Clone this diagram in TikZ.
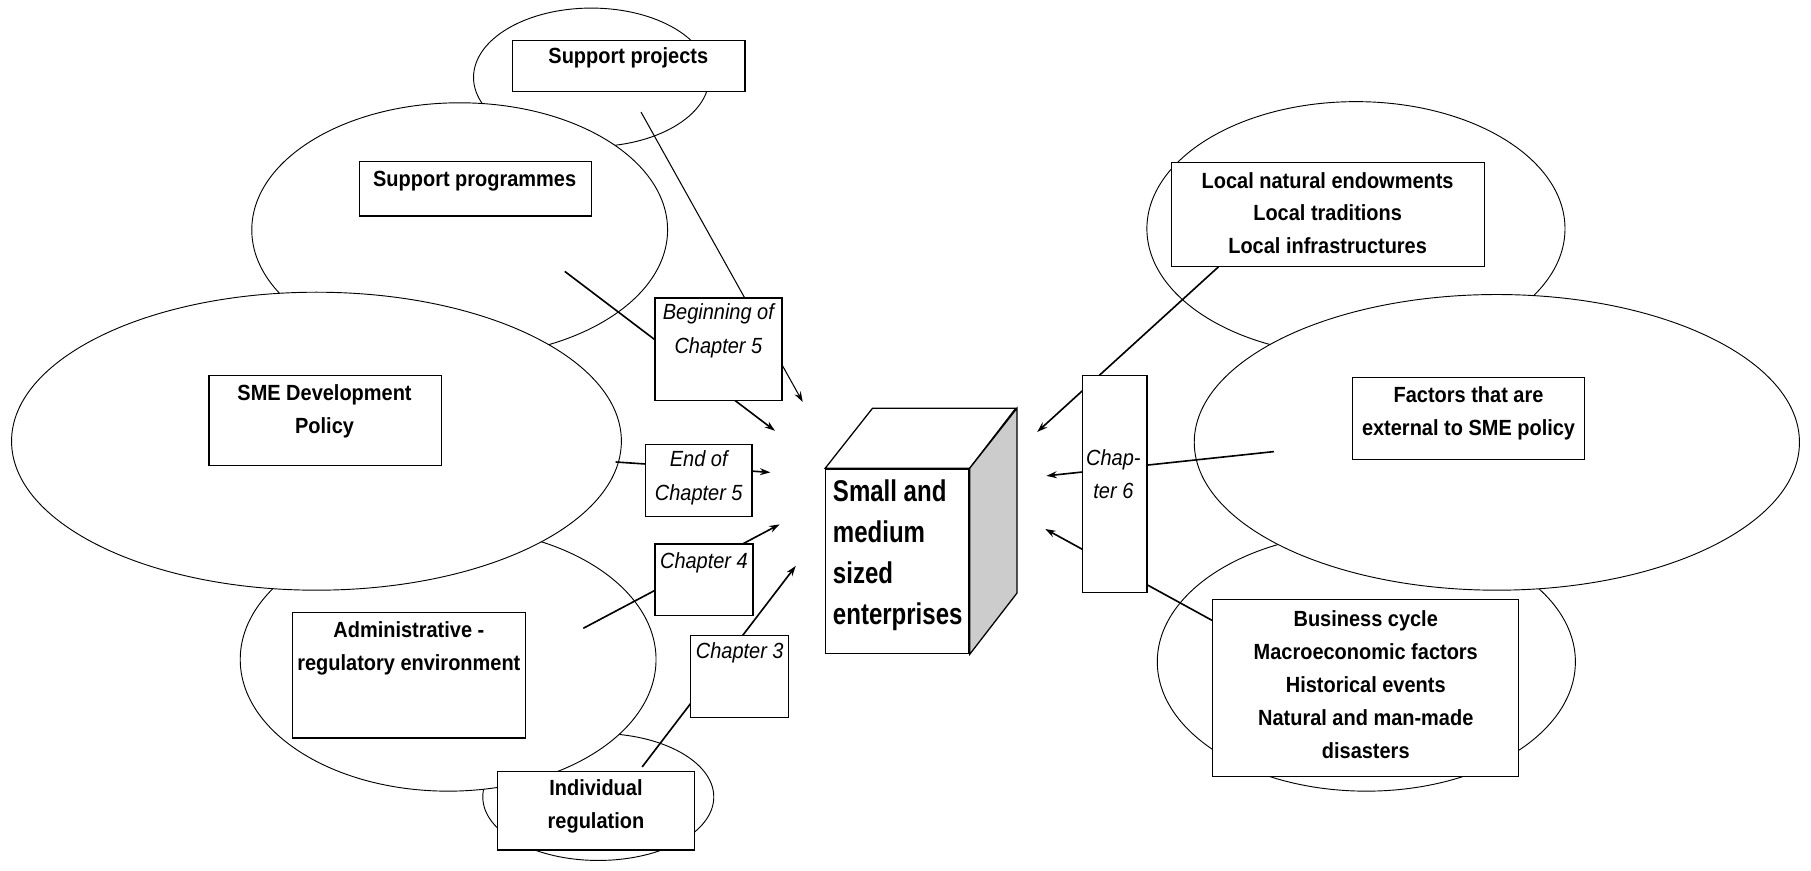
\documentclass[tikz,border=0pt]{standalone}
\usepackage{fontspec}
\setmainfont{Liberation Sans}[FakeStretch=0.91]
\newfontfamily\cubefont{Liberation Sans}[FakeStretch=0.8]
\usetikzlibrary{shapes.geometric,arrows.meta}
\tikzset{
  oval/.style={ellipse, draw, fill=white, line width=0.8pt, inner sep=0pt},
  box/.style={rectangle, draw, fill=white, line width=1.1pt, inner sep=0pt},
  lbl/.style={font=\fontsize{19}{28.5}\selectfont\bfseries, align=center, inner sep=0pt},
  chap/.style={font=\fontsize{19}{29}\selectfont\itshape, align=center, inner sep=0pt},
  cubetxt/.style={font=\cubefont\fontsize{26}{35.5}\selectfont\bfseries, align=left, inner sep=0pt},
  conn/.style={line width=1.4pt, -{Stealth[length=9pt,width=6pt]}},
  thinconn/.style={line width=0.9pt, -{Stealth[length=9pt,width=6pt]}},
  cubeline/.style={draw, line width=1.1pt, line join=miter},
}
\begin{document}
\begin{tikzpicture}[x=1pt,y=-1pt]
\useasboundingbox (0,0) rectangle (1568,754);
% ellipses, back to front
\node[oval, minimum width=204pt, minimum height=120pt] (eproj) at (512,67) {};
\node[oval, minimum width=360pt, minimum height=220pt] (eprog) at (398,199) {};
\node[oval, minimum width=200pt, minimum height=110pt] (eind) at (518,690) {};
\node[oval, minimum width=360pt, minimum height=228pt] (eadm) at (388,571) {};
\node[oval, minimum width=528pt, minimum height=258pt] (esme) at (274,382) {};
\node[oval, minimum width=362pt, minimum height=220pt] (eloc) at (1174,198) {};
\node[oval, minimum width=362pt, minimum height=224pt] (ebus) at (1183,573) {};
\node[oval, minimum width=524pt, minimum height=256pt] (efac) at (1296,383) {};
% connector end points
\coordinate (s1) at (555,97);   \coordinate (t1) at (695,348);
\coordinate (s2) at (489,235);  \coordinate (t2) at (671,373);
\coordinate (s3) at (533,400);  \coordinate (t3) at (667,409);
\coordinate (s4) at (505,544);  \coordinate (t4) at (675,454);
\coordinate (s5) at (556,664);  \coordinate (t5) at (689,490);
\coordinate (s6) at (1055,231); \coordinate (t6) at (898,374);
\coordinate (s7) at (1103,391); \coordinate (t7) at (906,412);
\coordinate (s8) at (1051,538); \coordinate (t8) at (905,458);
\draw[thinconn] (s1) -- (t1);
\draw[conn] (s2) -- (t2);
\draw[conn] (s3) -- (t3);
\draw[conn] (s4) -- (t4);
\draw[conn] (s5) -- (t5);
\draw[conn] (s6) -- (t6);
\draw[conn] (s7) -- (t7);
\draw[conn] (s8) -- (t8);
% main boxes
\node[box, minimum width=201pt, minimum height=44pt] (bproj) at (544.5,57) {};
\node[box, minimum width=201pt, minimum height=47pt] (bprog) at (411.5,163.5) {};
\node[box, minimum width=201pt, minimum height=78pt] (bsme) at (281.5,364) {};
\node[box, minimum width=202pt, minimum height=109pt] (badm) at (354,584.5) {};
\node[box, minimum width=170pt, minimum height=68pt] (bind) at (516,702) {};
\node[box, minimum width=271pt, minimum height=90pt] (bloc) at (1149.5,186) {};
\node[box, minimum width=201pt, minimum height=71pt] (bfac) at (1271.5,362.5) {};
\node[box, minimum width=265pt, minimum height=153pt] (bbus) at (1182.5,595.5) {};
\node[lbl] (tproj) at (544,50) {Support projects};
\node[lbl] (tprog) at (411,157) {Support programmes};
\node[lbl] (tsme) at (281,356) {SME Development\\Policy};
\node[lbl] (tadm) at (354,561.5) {Administrative -\\regulatory environment};
\node[lbl] (tind) at (516,698) {Individual\\regulation};
\node[lbl] (tloc) at (1149.5,184.5) {Local natural endowments\\Local traditions\\Local infrastructures};
\node[lbl] (tfac) at (1271.5,357.5) {Factors that are\\external to SME policy};
\node[lbl] (tbus) at (1182.5,592.5) {Business cycle\\Macroeconomic factors\\Historical events\\Natural and man-made\\disasters};
% chapter boxes
\node[box, minimum width=110pt, minimum height=89pt] (cbeg) at (622,302.5) {};
\node[box, minimum width=92pt, minimum height=62pt] (cend) at (605,416) {};
\node[box, minimum width=85pt, minimum height=62pt] (cfour) at (609.5,502) {};
\node[box, minimum width=85pt, minimum height=71pt] (cthree) at (640.5,585.5) {};
\node[box, minimum width=56pt, minimum height=188pt] (csix) at (965,419) {};
\node[chap] (tbeg) at (622,286.5) {Beginning of\\Chapter 5};
\node[chap] (tend) at (605,413.5) {End of\\Chapter 5};
\node[chap] (tfour) at (609.5,487) {Chapter 4};
\node[chap] (tthree) at (640.5,565) {Chapter 3};
\node[chap] (tsix) at (964,410.5) {Chap-\\ter 6};
% cube
\node[box, minimum width=124pt, minimum height=160pt] (cube) at (777,486) {};
\draw[cubeline, fill=white] (cube.north west) -- ++(41,-52) -- ++(124,0) -- (cube.north east) -- cycle;
\draw[cubeline, fill=gray!40] (cube.north east) -- ++(41,-52) -- ++(0,160) -- (cube.south east) -- cycle;
\node[cubetxt, anchor=north west] (tcube) at (721,415) {Small and\\medium\\sized\\enterprises};
\end{tikzpicture}
\end{document}
